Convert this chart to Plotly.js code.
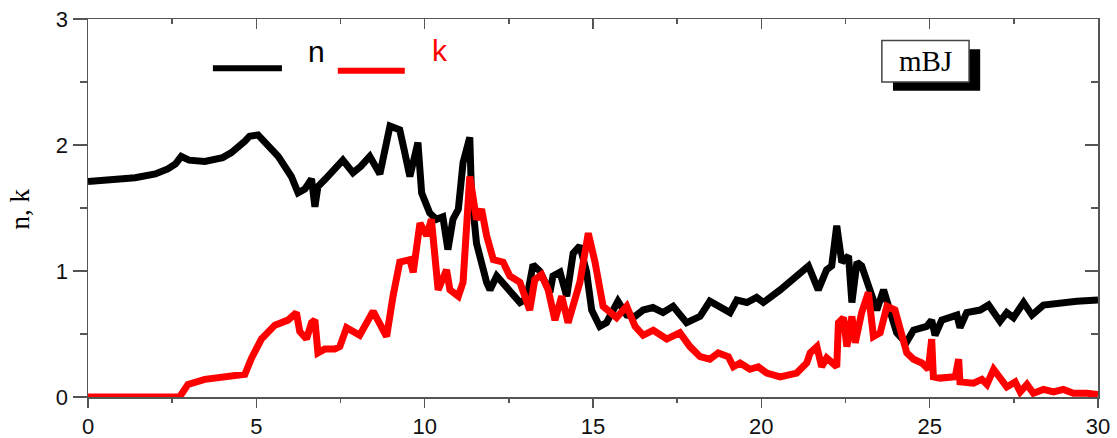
<!DOCTYPE html>
<html>
<head>
<meta charset="utf-8">
<script src="https://cdn.plot.ly/plotly-3.0.1.min.js"></script>
<style>html,body{margin:0;padding:0;background:#fff;}#chart{width:1117px;height:438px;}</style>
</head>
<body>
<div id="chart"></div>
<script>
// Photon energy (x) and refractive index n / extinction coefficient k
const nEnergy = [0,0.7,1.4,2.0,2.37,2.6,2.77,3.0,3.47,4.0,4.26,4.66,
  4.8,5.05,5.25,5.65,6.04,6.24,6.44,6.64,6.74,6.83,
  7.05,7.33,7.57,7.87,8.1,8.37,8.67,8.97,9.26,9.4,
  9.56,9.8,9.91,10.15,10.35,10.54,10.69,10.84,11.0,11.14,11.34,
  11.39,11.54,11.84,11.94,12.14,12.53,12.83,13.03,13.22,13.42,
  13.72,13.81,14.02,14.22,14.41,14.61,14.81,14.96,15.2,15.4,
  15.74,16.0,16.25,16.49,16.78,17.08,17.38,17.78,18.18,18.47,
  18.77,19.07,19.27,19.57,19.86,20.06,20.56,21.05,21.4,21.69,
  21.94,22.09,22.24,22.39,22.59,22.69,22.84,22.98,23.23,23.43,
  23.63,23.82,24.02,24.3,24.52,24.91,25.06,25.16,25.36,25.81,
  25.9,26.1,26.5,26.75,27.09,27.29,27.49,27.79,28.04,28.38,
  28.88,29.37,30];
const nValues = [1.71,1.72,1.74,1.77,1.81,1.85,1.91,1.88,1.87,1.90,1.94,2.03,
  2.07,2.08,2.02,1.91,1.75,1.62,1.65,1.73,1.51,1.67,
  1.73,1.81,1.88,1.78,1.83,1.91,1.77,2.15,2.12,1.95,
  1.75,2.02,1.62,1.46,1.41,1.43,1.17,1.41,1.49,1.86,2.06,
  1.62,1.22,0.91,0.85,0.96,0.83,0.75,0.78,1.05,1.00,
  0.83,0.96,0.99,0.80,1.14,1.20,0.99,0.69,0.56,0.59,
  0.76,0.65,0.64,0.69,0.71,0.67,0.72,0.59,0.64,0.76,
  0.72,0.67,0.77,0.75,0.79,0.75,0.85,0.96,1.04,0.85,
  1.01,1.04,1.36,1.07,1.12,0.75,1.07,1.04,0.83,0.69,
  0.85,0.67,0.51,0.43,0.53,0.56,0.61,0.49,0.61,0.65,
  0.55,0.67,0.69,0.73,0.60,0.67,0.63,0.75,0.65,0.73,
  0.75,0.76,0.77];

const kEnergy = [0,2.72,2.97,3.47,4.66,4.86,5.15,5.55,5.94,6.19,
  6.29,6.49,6.64,6.74,6.83,7.03,7.33,7.48,7.68,8.07,
  8.47,8.87,9.06,9.26,9.56,9.66,9.86,10.06,10.2,10.4,
  10.65,10.75,11.0,11.14,11.34,11.54,11.69,11.84,12.04,12.33,
  12.53,12.83,13.12,13.27,13.47,13.67,13.87,14.07,14.26,14.61,
  14.86,15.06,15.3,15.7,16.0,16.25,16.49,16.79,17.19,17.58,
  17.88,18.18,18.47,18.72,19.02,19.17,19.37,19.66,19.91,20.16,
  20.56,21.05,21.35,21.45,21.65,21.79,21.94,22.24,22.29,22.44,
  22.54,22.69,22.79,22.98,23.18,23.33,23.53,23.73,23.97,24.12,
  24.32,24.52,24.77,24.96,25.06,25.11,25.31,25.76,25.86,25.9,
  26.3,26.55,26.7,26.9,27.09,27.29,27.54,27.69,27.89,28.08,
  28.38,28.68,28.97,29.27,29.67,30];
const kValues = [0,0,0.10,0.14,0.18,0.31,0.46,0.57,0.61,0.67,
  0.52,0.46,0.59,0.61,0.35,0.38,0.38,0.40,0.55,0.49,
  0.68,0.48,0.80,1.07,1.09,0.99,1.38,1.28,1.41,0.85,
  1.01,0.85,0.80,0.91,1.75,1.41,1.49,1.28,1.09,1.07,
  0.96,0.91,0.69,0.93,0.97,0.85,0.61,0.80,0.59,0.91,
  1.30,1.07,0.72,0.63,0.72,0.56,0.49,0.53,0.46,0.51,
  0.40,0.32,0.30,0.35,0.32,0.24,0.27,0.22,0.24,0.19,
  0.16,0.19,0.27,0.35,0.40,0.24,0.31,0.24,0.59,0.63,
  0.40,0.64,0.43,0.67,0.83,0.48,0.51,0.72,0.69,0.53,
  0.35,0.30,0.27,0.22,0.46,0.16,0.15,0.16,0.30,0.12,
  0.11,0.14,0.10,0.22,0.16,0.08,0.12,0.04,0.10,0.03,
  0.06,0.04,0.06,0.03,0.03,0.02];

const xTicks = [0,5,10,15,20,25,30];
const yTicks = [0,1,2,3];
const seriesNames = ['n','k'];
const boxLabel = 'mBJ';
const yTitle = 'n, k';

const axisColor = '#555';
const tickFont = {family:'Liberation Sans, Arial, sans-serif', size:22, color:'#111'};

const traces = [
  {x:nEnergy, y:nValues, type:'scatter', mode:'lines', name:seriesNames[0],
   line:{color:'#000000', width:7, shape:'linear'}, showlegend:false},
  {x:kEnergy, y:kValues, type:'scatter', mode:'lines', name:seriesNames[1],
   line:{color:'#ff0000', width:7, shape:'linear'}, showlegend:false},
  {x:[], y:[], xaxis:'x2', yaxis:'y2', type:'scatter', mode:'lines', showlegend:false}
];

const layout = {
  width:1117, height:438,
  margin:{l:88, r:19, t:19, b:41, pad:0},
  paper_bgcolor:'#fff', plot_bgcolor:'#fff',
  showlegend:false,
  xaxis:{range:[0,30], tickvals:xTicks, ticktext:xTicks.map(String),
    showgrid:false, zeroline:false, showline:true, linecolor:axisColor, linewidth:1.5,
    ticks:'outside', ticklen:9, tickwidth:1.5, tickcolor:axisColor, tickfont:tickFont,
    minor:{tickvals:[2.5,7.5,12.5,17.5,22.5,27.5], ticks:'outside', ticklen:4, tickwidth:1.5, tickcolor:axisColor, showgrid:false},
    fixedrange:true},
  yaxis:{range:[0,3], tickvals:yTicks, ticktext:yTicks.map(String),
    showgrid:false, zeroline:false, showline:true, linecolor:axisColor, linewidth:1.5,
    ticks:'outside', ticklen:14, tickwidth:1.5, tickcolor:axisColor, tickfont:tickFont,
    minor:{tickvals:[0.5,1.5,2.5], ticks:'outside', ticklen:7, tickwidth:1.5, tickcolor:axisColor, showgrid:false},
    fixedrange:true},
  xaxis2:{range:[0,30], overlaying:'x', side:'top', anchor:'y2',
    tickvals:xTicks, showticklabels:false, showgrid:false, zeroline:false,
    showline:true, linecolor:axisColor, linewidth:1.5,
    ticks:'inside', ticklen:10, tickwidth:1.5, tickcolor:axisColor,
    minor:{tickvals:[2.5,7.5,12.5,17.5,22.5,27.5], ticks:'inside', ticklen:5, tickwidth:1.5, tickcolor:axisColor, showgrid:false}},
  yaxis2:{range:[0,3], overlaying:'y', side:'right', anchor:'x2',
    tickvals:yTicks, showticklabels:false, showgrid:false, zeroline:false,
    showline:true, linecolor:axisColor, linewidth:1.5,
    ticks:'inside', ticklen:13, tickwidth:1.5, tickcolor:axisColor,
    minor:{tickvals:[0.5,1.5,2.5], ticks:'inside', ticklen:7, tickwidth:1.5, tickcolor:axisColor, showgrid:false}},
  shapes:[
    // legend line samples
    {type:'line', xref:'x', yref:'y', x0:3.71, x1:5.76, y0:2.61, y1:2.61, line:{color:'#000', width:6}},
    {type:'line', xref:'x', yref:'y', x0:7.42, x1:9.41, y0:2.59, y1:2.59, line:{color:'#ff0000', width:6}},
    // mBJ label shadow + box
    {type:'rect', xref:'x', yref:'y', x0:23.91, x1:26.50, y0:2.43, y1:2.76, fillcolor:'#000', line:{width:0}},
    {type:'rect', xref:'x', yref:'y', x0:23.58, x1:26.17, y0:2.50, y1:2.83, fillcolor:'#fff', line:{color:'#444', width:1.5}}
  ],
  annotations:[
    {xref:'x', yref:'y', x:6.8, y:2.74, text:seriesNames[0], showarrow:false,
     font:{family:'Liberation Sans, Arial, sans-serif', size:30, color:'#000'}},
    {xref:'x', yref:'y', x:10.45, y:2.75, text:seriesNames[1], showarrow:false,
     font:{family:'Liberation Sans, Arial, sans-serif', size:30, color:'#ff0000'}},
    {xref:'x', yref:'y', x:24.87, y:2.665, text:boxLabel, showarrow:false,
     font:{family:'Liberation Serif, Times New Roman, serif', size:29, color:'#000'}},
    {xref:'paper', yref:'paper', x:-0.0677, y:0.498, text:yTitle, showarrow:false, textangle:-90,
     xanchor:'center', yanchor:'middle',
     font:{family:'Liberation Serif, Times New Roman, serif', size:27, color:'#000'}}
  ]
};

Plotly.newPlot('chart', traces, layout, {staticPlot:true, displayModeBar:false});
</script>
</body>
</html>
